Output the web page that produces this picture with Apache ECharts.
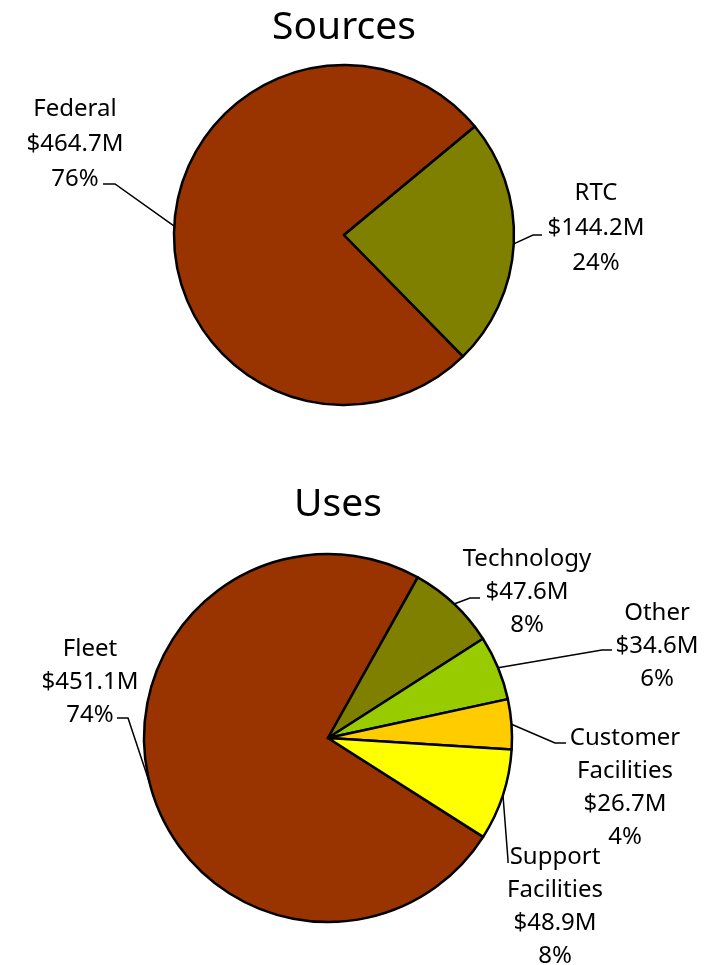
<!DOCTYPE html>
<html>
<head>
<meta charset="utf-8">
<script src="https://cdn.jsdelivr.net/npm/echarts@6/dist/echarts.min.js"></script>
<style>
  html, body { margin: 0; padding: 0; background: #fff; }
  #chart { width: 712px; height: 965px; }
</style>
</head>
<body>
<div id="chart"></div>
<script>
// data
var sourceNames = ['Federal', 'RTC']
var sourceValues = [464.7, 144.2]
var sourceColors = ['#993300', '#808000']

var useNames = ['Fleet', 'Technology', 'Other', 'Customer Facilities', 'Support Facilities']
var useValues = [451.1, 47.6, 34.6, 26.7, 48.9]
var useColors = ['#993300', '#808000', '#99CC00', '#FFCC00', '#FFFF00']

// label placement (x = text centre, y = text top) and leader line bends
var labelSpots = [
    [
        {x: 75, y: 92, bend: [115, 184], end: [103, 184]},
        {x: 596, y: 176, bend: [533, 235], end: [542, 235]}
    ],
    [
        {x: 90, y: 633, bend: [128, 718], end: [117, 718]},
        {x: 527, y: 543, bend: [470, 598], end: [480, 598]},
        {x: 657, y: 597, bend: [602, 650], end: [612, 650]},
        {x: 625, y: 722, bend: [555, 743], end: [566, 743]},
        {x: 555, y: 841, bend: [508, 860], end: [508, 863]}
    ]
]

var font = 'Noto Sans'

function buildData(names, values, colors) {
    var list = []
    for (let i = 0; i < names.length; i++) {
        list.push({name: names[i], value: values[i], itemStyle: {color: colors[i]}})
    }
    return list
}

function pieLabel(params) {
    return params.name.replace(' ', '\n') + '\n$' + params.value.toFixed(1) + 'M\n' + Math.round(params.percent) + '%'
}

function makePie(data, center, radius, startAngle, lineHeight) {
    return {
        type: 'pie',
        center: center,
        radius: radius,
        startAngle: startAngle,
        avoidLabelOverlap: false,
        animation: false,
        itemStyle: {borderColor: '#000', borderWidth: 2.5},
        label: {
            show: true,
            position: 'outside',
            formatter: pieLabel,
            fontFamily: font,
            fontSize: 24,
            lineHeight: lineHeight,
            color: '#000',
            align: 'center'
        },
        labelLine: {show: true, length: 15, length2: 10, lineStyle: {color: '#000', width: 1.5}},
        labelLayout: function (params) {
            var s = labelSpots[params.seriesIndex][params.dataIndex]
            return {
                x: s.x,
                y: s.y,
                align: 'center',
                verticalAlign: 'top',
                labelLinePoints: [params.labelLinePoints[0], s.bend, s.end]
            }
        },
        emphasis: {disabled: true},
        data: data
    }
}

var option = {
    backgroundColor: '#fff',
    title: [
        {text: 'Sources', left: 339, top: 3, textAlign: 'center',
            textStyle: {fontFamily: font, fontSize: 39, fontWeight: 'normal', color: '#000'}},
        {text: 'Uses', left: 333, top: 480, textAlign: 'center',
            textStyle: {fontFamily: font, fontSize: 39, fontWeight: 'normal', color: '#000'}}
    ],
    series: [
        makePie(buildData(sourceNames, sourceValues, sourceColors), [344, 235], 170, 314.4, 35),
        makePie(buildData(useNames, useValues, useColors), [328, 738], 184, 327.5, 33)
    ]
}

var myChart = echarts.init(document.getElementById('chart'))
myChart.setOption(option)
</script>
</body>
</html>
